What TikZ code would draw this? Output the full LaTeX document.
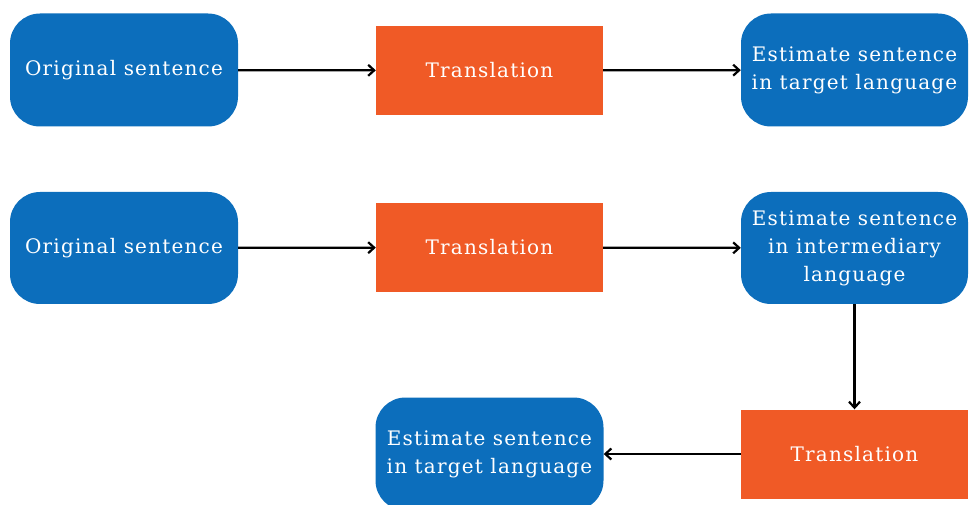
\documentclass[tikz,border=0pt]{standalone}
\usepackage{fontspec}
\setmainfont[LetterSpace=6]{DejaVu Serif}
\usetikzlibrary{arrows.meta}
\definecolor{bblue}{RGB}{12,110,188}
\definecolor{borange}{RGB}{240,90,38}
\tikzset{
  bluebox/.style={fill=bblue, rounded corners=30pt, text=white, align=center, font=\fontsize{20}{28}\selectfont, inner sep=0pt},
  orangebox/.style={fill=borange, text=white, align=center, font=\fontsize{20}{28}\selectfont, inner sep=0pt},
  conn/.style={draw=black, line width=2.2pt, -{Straight Barb[length=6pt,width=11pt,line width=2.2pt]}}
}
\begin{document}
\begin{tikzpicture}[x=1pt,y=-1pt]
\useasboundingbox (0,0) rectangle (970,505);
% row 1
\node[bluebox, minimum width=228pt, minimum height=113pt] (a1) at (124,70) {Original sentence};
\node[orangebox, minimum width=227pt, minimum height=89pt] (t1) at (489.5,70.5) {Translation};
\node[bluebox, minimum width=227pt, minimum height=113pt] (e1) at (854.5,70) {Estimate sentence\\in target language};
% row 2
\node[bluebox, minimum width=228pt, minimum height=112pt] (a2) at (124,248) {Original sentence};
\node[orangebox, minimum width=227pt, minimum height=89pt] (t2) at (489.5,247.5) {Translation};
\node[bluebox, minimum width=227pt, minimum height=112pt] (e2) at (854.5,248) {Estimate sentence\\in intermediary\\language};
% row 3
\node[orangebox, minimum width=227pt, minimum height=89pt] (t3) at (854.5,454) {Translation};
\node[bluebox, minimum width=228pt, minimum height=113pt] (e3) at (489.5,454) {Estimate sentence\\in target language};
% connectors
\draw[conn] (a1) -- (t1);
\draw[conn] (t1) -- (e1);
\draw[conn] (a2) -- (t2);
\draw[conn] (t2) -- (e2);
\draw[conn] (e2) -- (t3);
\draw[conn] (t3) -- (e3);
\end{tikzpicture}
\end{document}
